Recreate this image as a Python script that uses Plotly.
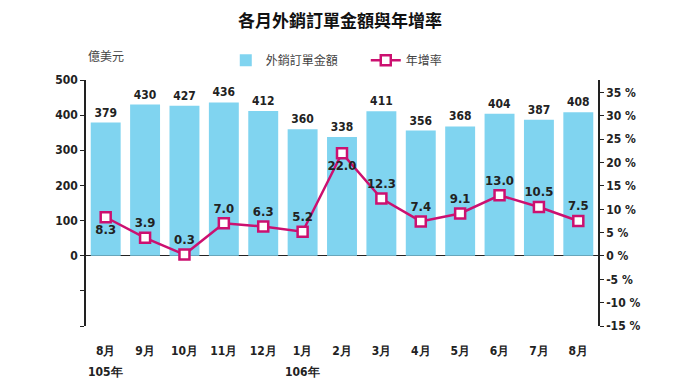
import plotly.graph_objects as go

months = ["8月", "9月", "10月", "11月", "12月", "1月", "2月", "3月", "4月", "5月", "6月", "7月", "8月"]
orders = [379, 430, 427, 436, 412, 360, 338, 411, 356, 368, 404, 387, 408]
growth = [8.3, 3.9, 0.3, 7.0, 6.3, 5.2, 22.0, 12.3, 7.4, 9.1, 13.0, 10.5, 7.5]
growth_pos = ["bottom center", "top center", "top center", "top center", "top center", "top center",
              "bottom center", "top center", "top center", "top center", "top center", "top center", "top center"]
year_labels = [(0, "105年"), (5, "106年")]
left_ticks = [-200, -100, 0, 100, 200, 300, 400, 500]
left_ticktext = ["", "", "0", "100", "200", "300", "400", "500"]
right_ticks = [-15, -10, -5, 0, 5, 10, 15, 20, 25, 30, 35]
right_ticktext = [f"{v} %" for v in right_ticks]

x = list(range(len(months)))
NUM_FONT = "DejaVu Sans Condensed, Liberation Sans, sans-serif"
CJK = "Noto Sans CJK TC, sans-serif"
BAR = "#80D4F0"
LINE = "#CC1070"

fig = go.Figure()
fig.add_trace(go.Bar(
    x=x, y=orders, name="外銷訂單金額", marker=dict(color=BAR, line=dict(width=0)),
    text=[str(v) for v in orders], textposition="outside", cliponaxis=False,
    textfont=dict(family=NUM_FONT, size=12, color="#222", weight="bold"),
    yaxis="y",
))
fig.add_trace(go.Scatter(
    x=x, y=growth, name="年增率", mode="lines+markers+text",
    line=dict(color=LINE, width=2.5),
    marker=dict(symbol="square", size=10, color="white", line=dict(color=LINE, width=2.5)),
    text=[f"{v:.1f}" for v in growth], textposition=growth_pos,
    textfont=dict(family=NUM_FONT, size=13, color="#222", weight="bold"),
    yaxis="y2", cliponaxis=False,
))

for xi, lbl in year_labels:
    fig.add_annotation(x=xi, y=-0.187, xref="x", yref="paper", text=lbl, showarrow=False,
                       font=dict(family=NUM_FONT, size=12, color="#222", weight="bold"), yanchor="middle")

fig.add_annotation(x=0.0, y=1.055, xref="paper", yref="paper", text="億美元", showarrow=False,
                   xanchor="left", yanchor="bottom", font=dict(family=CJK, size=12, color="#444"))

# the page body has an 8px margin, so the figure is sized 8px smaller and margins shifted
fig.update_layout(
    width=672, height=375,
    margin=dict(l=78, r=82, t=72, b=57, autoexpand=False),
    paper_bgcolor="white", plot_bgcolor="white",
    title=dict(text="<b>各月外銷訂單金額與年增率</b>", x=0.494, xanchor="center", y=0.966, yanchor="middle",
               font=dict(family=CJK, size=17, color="#111")),
    bargap=0.24,
    showlegend=True,
    legend=dict(orientation="h", x=0.273, y=1.08, xanchor="left", yanchor="middle",
                font=dict(family=CJK, size=12, color="#444"), bgcolor="rgba(0,0,0,0)",
                itemwidth=30, tracegroupgap=0, entrywidth=95, entrywidthmode="pixels"),
    xaxis=dict(tickvals=x, ticktext=months, range=[-0.5, 12.5], showline=False, ticks="",
               tickfont=dict(family=NUM_FONT, size=12, color="#222", weight="bold"), showgrid=False,
               ticklabelstandoff=16),
    yaxis=dict(range=[-200, 500], tickvals=left_ticks, ticktext=left_ticktext, showgrid=False,
               showline=True, linecolor="#222", linewidth=1.5, ticks="outside", ticklen=4, tickcolor="#222",
               zeroline=True, zerolinecolor="#222", zerolinewidth=1.2,
               tickfont=dict(family=NUM_FONT, size=12, color="#222", weight="bold")),
    yaxis2=dict(range=[-15, 37.7], overlaying="y", side="right", tickvals=right_ticks, ticktext=right_ticktext,
                showgrid=False, zeroline=False, showline=True, linecolor="#222", linewidth=1.5,
                ticks="outside", ticklen=4, tickcolor="#222",
                tickfont=dict(family=NUM_FONT, size=12, color="#222", weight="bold")),
)

fig.write_html("out.html")
